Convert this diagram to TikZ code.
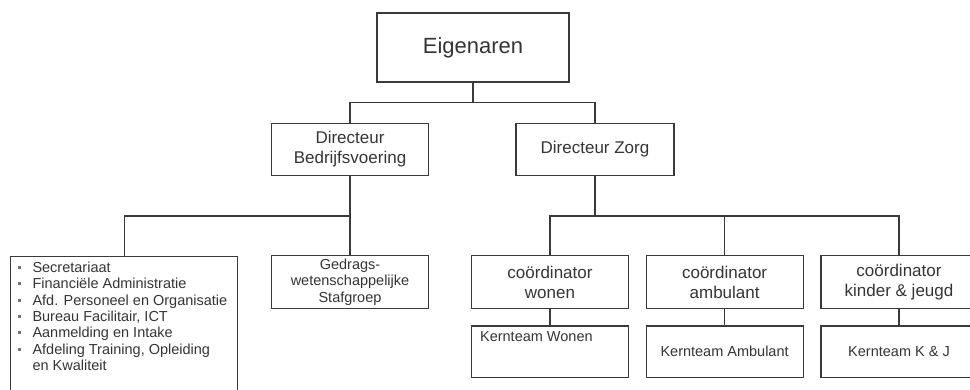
\documentclass[tikz,border=0pt]{standalone}
\usepackage{fontspec}
\setmainfont{Liberation Sans}
\usetikzlibrary{calc}
\definecolor{txt}{HTML}{353535}
\definecolor{ln}{HTML}{3A3A3A}
\begin{document}
\begin{tikzpicture}[x=1pt,y=-1pt,
  box/.style={draw=ln,line width=1.2pt,rectangle,inner sep=0pt,text=txt,align=center},
  conn/.style={draw=ln,line width=1.2pt},
  fbig/.style={font=\fontsize{22}{26}\selectfont},
  fmid/.style={font=\fontsize{17}{20}\selectfont},
  fsml/.style={font=\fontsize{14.5}{16.6}\selectfont},
  bul/.style={fill=ln!70,draw=none,minimum size=3pt,inner sep=0pt,rectangle}
]
\useasboundingbox (0,0) rectangle (970,389);
\fill[white] (0,0) rectangle (970,389);

% level 0
\node[box,fbig,minimum width=192pt,minimum height=69pt] (eig) at (473,47.5) {Eigenaren};
% level 1
\node[box,fmid,minimum width=157pt,minimum height=52pt] (db) at (350,149.5) {Directeur\\Bedrijfsvoering};
\node[box,fmid,minimum width=158pt,minimum height=52pt] (dz) at (595,149.5) {Directeur Zorg};
% level 2
\node[box,minimum width=227pt,minimum height=150pt,anchor=north west] (list) at (10,256) {};
\node[box,fsml,minimum width=157pt,minimum height=52.5pt] (ged) at (350,282) {Gedrags-\\wetenschappelijke\\Stafgroep};
\node[box,fmid,minimum width=157pt,minimum height=52.5pt] (cw) at (550,282) {coördinator\\wonen};
\node[box,fmid,minimum width=157pt,minimum height=52.5pt] (ca) at (724.6,282) {coördinator\\ambulant};
\node[box,fmid,minimum width=156pt,minimum height=52.5pt] (ck) at (899,282) {coördinator\\kinder \& jeugd};
% level 3
\node[box,minimum width=157pt,minimum height=51.5pt] (kw) at (550,351.7) {};
\node[box,fsml,minimum width=157pt,minimum height=51.5pt] (ka) at (724.6,351.7) {Kernteam Ambulant};
\node[box,fsml,minimum width=156pt,minimum height=51.5pt] (kk) at (899,351.7) {Kernteam K \& J};
\node[fsml,text=txt,inner sep=0pt,anchor=base west] (kwt) at ($(kw.north west)+(9,15.7)$) {Kernteam Wonen};

% list content
\foreach \i/\t/\b in {1/Secretariaat/1,2/Financiële Administratie/1,3/Afd. Personeel en Organisatie/1,4/{Bureau Facilitair, ICT}/1,5/Aanmelding en Intake/1,6/{Afdeling Training, Opleiding}/1,7/en Kwaliteit/0}{
  \node[fsml,text=txt,inner sep=0pt,anchor=base west] (l\i) at (32.3,{272.3+(\i-1)*16.4}) {\t};
  \ifnum\b=1 \node[bul] (b\i) at (19,{272.3+(\i-1)*16.4-5}) {};\fi
}

% connectors
\coordinate (j1) at (473,102.7);
\coordinate (j2) at (350,216);
\coordinate (j3) at (595,216);
\draw[conn] (eig.south) -- (j1);
\draw[conn] (db.north) |- (j1) -| (dz.north);
\draw[conn] (db.south) -- (ged.north);
\draw[conn] (j2) -| (list.north);
\draw[conn] (dz.south) -- (j3);
\draw[conn] (cw.north) |- (j3) -| (ck.north);
\draw[conn] (ca.north) -- (ca.north |- j3);
\draw[conn] (cw.south) -- (kw.north);
\draw[conn] (ca.south) -- (ka.north);
\draw[conn] (ck.south) -- (kk.north);
\end{tikzpicture}
\end{document}
